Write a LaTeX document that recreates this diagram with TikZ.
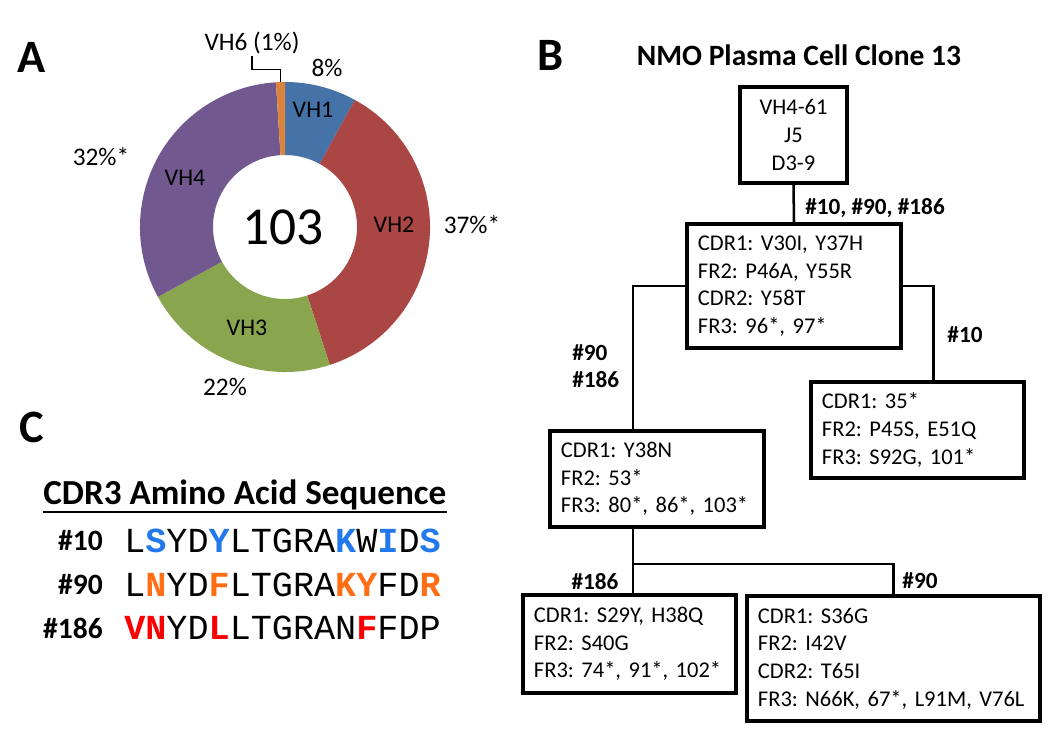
\documentclass[tikz,border=0pt]{standalone}
\usepackage{fontspec}
\setmainfont{Carlito}
\newfontfamily\seqfont{Liberation Mono}
\usetikzlibrary{positioning, calc}
\frenchspacing

\definecolor{vhone}{HTML}{4572A7}
\definecolor{vhtwo}{HTML}{AA4643}
\definecolor{vhthree}{HTML}{89A54E}
\definecolor{vhfour}{HTML}{71588F}
\definecolor{vhsix}{HTML}{DB843D}
\definecolor{mutblue}{RGB}{35,120,235}
\definecolor{mutorange}{RGB}{255,110,20}
\definecolor{mutred}{RGB}{250,0,0}

\newcommand{\mutb}[1]{\textcolor{mutblue}{\textbf{#1}}}
\newcommand{\muto}[1]{\textcolor{mutorange}{\textbf{#1}}}
\newcommand{\mutr}[1]{\textcolor{mutred}{\textbf{#1}}}

\tikzset{
  panel/.style={font=\bfseries\fontsize{33}{36}\selectfont, inner sep=0pt},
  ttl/.style={font=\bfseries\fontsize{21}{25}\selectfont, inner sep=0pt},
  seglbl/.style={font=\fontsize{17}{20}\selectfont, inner sep=0pt},
  pctlbl/.style={font=\fontsize{18}{21}\selectfont, inner sep=0pt},
  mbox/.style={draw, line width=2.8pt, align=left, inner xsep=0.275cm, inner ysep=0pt,
    font=\fontsize{16}{19.6}\selectfont},
  link/.style={line width=1.8pt},
  elabel/.style={font=\bfseries\fontsize{16.5}{19.6}\selectfont, inner sep=0pt, align=left},
  rowlbl/.style={font=\bfseries\fontsize{21}{24}\selectfont, inner sep=0pt, anchor=east},
  seq/.style={font=\seqfont\fontsize{25}{28}\selectfont, inner sep=0pt, anchor=west}
}

\begin{document}
\begin{tikzpicture}[x=0.025cm, y=-0.025cm]
\useasboundingbox (0,0) rectangle (1050,740);

% Panel A: donut of VH families
\node[panel] (pa) at (32,57) {A};
\coordinate (ctr) at (285,227);
\foreach \a/\b/\c in {-90/-61.2/vhone, -61.2/72/vhtwo, 72/151.2/vhthree, 151.2/266.4/vhfour, 266.4/270/vhsix}
  \fill[\c] ($(ctr)+(\a:145)$) arc[start angle=\a, end angle=\b, radius=145]
    -- ($(ctr)+(\b:72)$) arc[start angle=\b, end angle=\a, radius=72] -- cycle;
\node[font=\fontsize{38}{42}\selectfont, inner sep=0pt] (total) at (283,227) {103};

\node[seglbl] (vh1) at (313,110) {VH1};
\node[seglbl] (vh2) at (394,225) {VH2};
\node[seglbl] (vh3) at (247,328) {VH3};
\node[seglbl] (vh4) at (185,178) {VH4};

\node[pctlbl] (p1) at (327,68) {8\%};
\node[pctlbl] (p2) at (472,225) {37\%*};
\node[pctlbl] (p3) at (225,387) {22\%};
\node[pctlbl] (p4) at (101,157) {32\%*};
\node[pctlbl] (vh6) at (252,43) {VH6 (1\%)};
\draw[line width=1pt] ([yshift=-0.05cm]vh6.south) -- ++(0,13) -| ($(ctr)+(-91.8:145)$);

% Panel B: clone tree
\node[panel] (pb) at (550,55) {B};
\node[ttl] (title) at (799,55) {NMO Plasma Cell Clone 13};

\node[mbox, align=center, text width=2.125cm, minimum height=2.4cm] (root) at (793.5,135)
  {VH4-61\\J5\\D3-9};
\node[mbox, text width=4.8cm, minimum height=3.1cm] (b2) at (794,286)
  {CDR1: V30I, Y37H\\FR2: P46A, Y55R\\CDR2: Y58T\\FR3: 96*, 97*};
\node[mbox, text width=4.775cm, minimum height=2.4cm] (b4) at (917.5,430)
  {CDR1: 35*\\FR2: P45S, E51Q\\FR3: S92G, 101*};
\node[mbox, text width=4.8cm, minimum height=2.4cm] (b3) at (657,479)
  {CDR1: Y38N\\FR2: 53*\\FR3: 80*, 86*, 103*};
\node[mbox, text width=4.775cm, minimum height=2.45cm] (b5) at (629.5,644)
  {CDR1: S29Y, H38Q\\FR2: S40G\\FR3: 74*, 91*, 102*};
\node[mbox, text width=6.775cm, minimum height=3.125cm] (b6) at (893.5,658.5)
  {CDR1: S36G\\FR2: I42V\\CDR2: T65I\\FR3: N66K, 67*, L91M, V76L};

% connectors
\draw[link] (root.south) -- (b2.north);
\draw[link] (b2.west) -| ([xshift=-0.6cm]b3.north);
\draw[link] (b2.east) -| ([xshift=0.4cm]b4.north);
\coordinate (split) at ($([xshift=-0.6cm]b3.south)+(0,35)$);
\draw[link] ([xshift=-0.6cm]b3.south) -- (split) -- (split |- b5.north);
\draw[link] (split) -| (b6.north);

% branch labels
\node[elabel, anchor=west] (l1) at (805,208) {\#10, \#90, \#186};
\node[elabel, anchor=west] (l2) at (572,366) {\#90\\\#186};
\node[elabel] (l3) at (965,335) {\#10};
\node[elabel] (l4) at (595,582) {\#186};
\node[elabel] (l5) at (920,581) {\#90};

% Panel C: CDR3 sequences
\node[panel] (pc) at (32,427) {C};
\node[font=\bfseries\fontsize{25}{28}\selectfont, inner sep=0pt, anchor=west] (seqttl) at (43,495) {CDR3 Amino Acid Sequence};
\draw[line width=1.5pt] ([yshift=-0.03cm]seqttl.south west) -- ([yshift=-0.03cm]seqttl.south east);

\node[rowlbl] (r1) at (103,541) {\#10};
\node[rowlbl] (r2) at (103,585) {\#90};
\node[rowlbl] (r3) at (103,628) {\#186};
\node[seq] (s1) at (124,541) {L\mutb{S}YD\mutb{Y}LTGRA\mutb{K}W\mutb{I}D\mutb{S}};
\node[seq] (s2) at (124,585) {L\muto{N}YD\muto{F}LTGRA\muto{K}\muto{Y}FD\muto{R}};
\node[seq] (s3) at (124,628) {\mutr{V}\mutr{N}YD\mutr{L}LTGRAN\mutr{F}FDP};
\end{tikzpicture}
\end{document}
